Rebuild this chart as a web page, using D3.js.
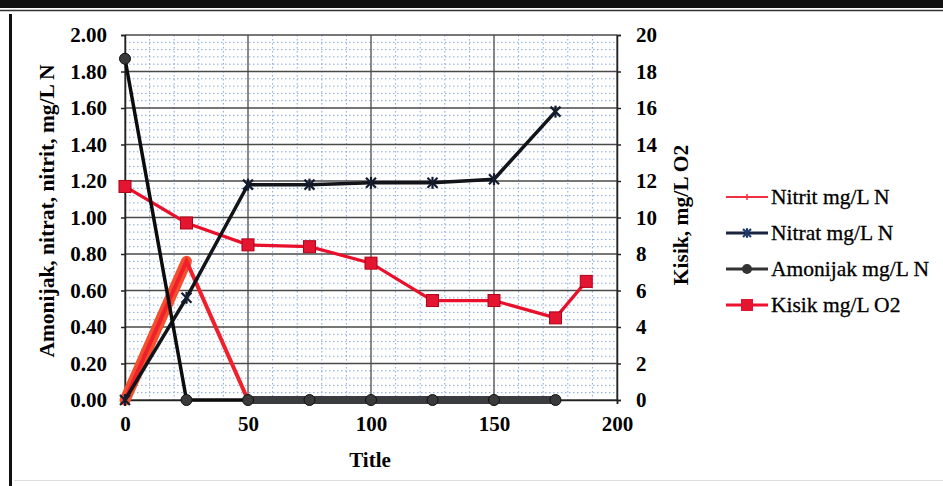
<!DOCTYPE html>
<html><head><meta charset="utf-8">
<script src="https://cdn.jsdelivr.net/npm/d3@7"></script>
<style>body{margin:0;background:#fff}svg{display:block}</style>
</head><body>
<svg id="c" width="943" height="486"></svg>
<script>
const xVals = [0, 25, 50, 75, 100, 125, 150, 175];
const kisikX = [0, 25, 50, 75, 100, 125, 150, 175, 187.5];
const nitrit = [0, 0.76, 0, 0, 0, 0, 0, 0];
const nitrat = [0, 0.56, 1.18, 1.18, 1.19, 1.19, 1.21, 1.58];
const amonijak = [1.87, 0, 0, 0, 0, 0, 0, 0];
const kisik = [11.7, 9.7, 8.5, 8.4, 7.5, 5.45, 5.45, 4.5, 6.5];
const xTicks = [0, 50, 100, 150, 200];
const yLeftTicks = [0, 0.2, 0.4, 0.6, 0.8, 1.0, 1.2, 1.4, 1.6, 1.8, 2.0];
const yRightTicks = [0, 2, 4, 6, 8, 10, 12, 14, 16, 18, 20];
const legendLabels = ["Nitrit mg/L N", "Nitrat mg/L N", "Amonijak mg/L N", "Kisik mg/L O2"];

const svg = d3.select("#c");
const x = d3.scaleLinear().domain([0, 200]).range([125, 617]);
const yL = d3.scaleLinear().domain([0, 2]).range([400, 35]);
const yR = d3.scaleLinear().domain([0, 20]).range([400, 35]);
const FONT = "'Liberation Serif','Times New Roman',serif";

// outer frame pieces
svg.append("rect").attr("x", 0).attr("y", 0).attr("width", 943).attr("height", 8).attr("fill", "#111");
svg.append("line").attr("x1", 0).attr("x2", 943).attr("y1", 10.5).attr("y2", 10.5).attr("stroke", "#333").attr("stroke-width", 1.5);
svg.append("rect").attr("x", 9).attr("y", 14).attr("width", 3).attr("height", 472).attr("fill", "#111");
svg.append("line").attr("x1", 14).attr("x2", 943).attr("y1", 480.5).attr("y2", 480.5).attr("stroke", "#ddd").attr("stroke-width", 1);

// minor grid
const g = svg.append("g");
d3.range(0, 201, 10).filter(v => v % 50 !== 0).forEach(v => {
  g.append("line").attr("x1", x(v)).attr("x2", x(v)).attr("y1", 35).attr("y2", 400)
    .attr("stroke", "#86a6dc").attr("stroke-width", 1).attr("stroke-dasharray", "1.5,2.5");
});
d3.range(0, 51, 1).map(i => i * 0.04).filter((v, i) => i % 5 !== 0).forEach(v => {
  g.append("line").attr("x1", 125).attr("x2", 617).attr("y1", yL(v)).attr("y2", yL(v))
    .attr("stroke", "#86a6dc").attr("stroke-width", 1).attr("stroke-dasharray", "1.5,2.5");
});
// major grid
xTicks.forEach(v => {
  g.append("line").attr("x1", x(v)).attr("x2", x(v)).attr("y1", 35).attr("y2", 400)
    .attr("stroke", "#4a4a4a").attr("stroke-width", 1.3);
});
yLeftTicks.forEach(v => {
  g.append("line").attr("x1", 125).attr("x2", 617).attr("y1", yL(v)).attr("y2", yL(v))
    .attr("stroke", "#4a4a4a").attr("stroke-width", 1.3);
});

// axes
const axL = svg.append("g").attr("transform", "translate(125,0)")
  .call(d3.axisLeft(yL).tickValues(yLeftTicks).tickFormat(d3.format(".2f")).tickSize(4).tickPadding(14));
const axR = svg.append("g").attr("transform", "translate(617,0)")
  .call(d3.axisRight(yR).tickValues(yRightTicks).tickFormat(d3.format("d")).tickSize(4).tickPadding(15));
const axB = svg.append("g").attr("transform", "translate(0,400)")
  .call(d3.axisBottom(x).tickValues(xTicks).tickFormat(d3.format("d")).tickSize(4).tickPadding(12));
[axL, axR, axB].forEach(a => {
  a.selectAll("path").attr("stroke", "#222").attr("stroke-width", 1.5);
  a.selectAll("line").attr("stroke", "#222").attr("stroke-width", 1.5);
  a.selectAll("text").attr("font-family", FONT).attr("font-weight", "bold").attr("font-size", 21).attr("fill", "#000");
});

// series
const lineL = xs => d3.line().x((d, i) => x(xs[i])).y(d => yL(d));
const lineR = xs => d3.line().x((d, i) => x(xs[i])).y(d => yR(d));

// Kisik
svg.append("path").attr("d", lineR(kisikX)(kisik)).attr("fill", "none")
  .attr("stroke", "#e8102a").attr("stroke-width", 3.2);
svg.selectAll(".ksq").data(kisik).join("rect")
  .attr("x", (d, i) => x(kisikX[i]) - 6).attr("y", d => yR(d) - 6).attr("width", 12).attr("height", 12)
  .attr("fill", "#e41530").attr("stroke", "#b0001a").attr("stroke-width", 1);

// Nitrit - wide band on rising segment
svg.append("path").attr("d", lineL(xVals.slice(0, 2))(nitrit.slice(0, 2))).attr("fill", "none")
  .attr("stroke", "#f4502f").attr("stroke-width", 11).attr("stroke-linecap", "round");
svg.append("path").attr("d", lineL(xVals)(nitrit)).attr("fill", "none")
  .attr("stroke", "#f0202a").attr("stroke-width", 4);

// Nitrat
svg.append("path").attr("d", lineL(xVals)(nitrat)).attr("fill", "none")
  .attr("stroke", "#111418").attr("stroke-width", 3.5);
const star = (sel, size, color) => {
  sel.each(function(d) {
    const gg = d3.select(this);
    const s = size;
    gg.append("line").attr("x1", -s).attr("y1", -s).attr("x2", s).attr("y2", s);
    gg.append("line").attr("x1", -s).attr("y1", s).attr("x2", s).attr("y2", -s);
    gg.append("line").attr("x1", 0).attr("y1", -s * 1.2).attr("x2", 0).attr("y2", s * 1.2);
    gg.selectAll("line").attr("stroke", color).attr("stroke-width", 2.2);
  });
};
svg.selectAll(".nst").data(nitrat).join("g")
  .attr("transform", (d, i) => `translate(${x(xVals[i])},${yL(d)})`)
  .call(star, 5, "#141c30");

// Amonijak
svg.append("path").attr("d", lineL(xVals)(amonijak)).attr("fill", "none")
  .attr("stroke", "#0c0c0c").attr("stroke-width", 3.5);
const amBandIdx = xVals.map((v, i) => i).filter(i => xVals[i] >= 50);
svg.append("path").attr("d", lineL(amBandIdx.map(i => xVals[i]))(amBandIdx.map(i => amonijak[i])))
  .attr("fill", "none").attr("stroke", "#3a3c40").attr("stroke-width", 8).attr("stroke-linecap", "round");
svg.selectAll(".amc").data(amonijak).join("circle")
  .attr("cx", (d, i) => x(xVals[i])).attr("cy", d => yL(d)).attr("r", 5.5)
  .attr("fill", "#3a3a3a").attr("stroke", "#111").attr("stroke-width", 1);

// axis titles
svg.append("text").attr("transform", "translate(54,211) rotate(-90)").attr("text-anchor", "middle")
  .attr("font-family", FONT).attr("font-weight", "bold").attr("font-size", 21.5).text("Amonijak, nitrat, nitrit, mg/L N");
svg.append("text").attr("transform", "translate(688,215) rotate(-90)").attr("text-anchor", "middle")
  .attr("font-family", FONT).attr("font-weight", "bold").attr("font-size", 21.5).text("Kisik, mg/L O2");
svg.append("text").attr("x", 370).attr("y", 467).attr("text-anchor", "middle")
  .attr("font-family", FONT).attr("font-weight", "bold").attr("font-size", 21).text("Title");

// legend
const lg = svg.append("g");
const legY = [197, 233, 269, 305];
legendLabels.forEach((lab, i) => {
  const y = legY[i];
  const colors = ["#f03040", "#1a2440", "#333", "#ee1030"];
  lg.append("line").attr("x1", 726).attr("x2", 768).attr("y1", y).attr("y2", y)
    .attr("stroke", colors[i]).attr("stroke-width", i === 0 ? 2 : 3);
  if (i === 0) {
    lg.append("line").attr("x1", 747).attr("x2", 747).attr("y1", y - 3).attr("y2", y + 3).attr("stroke", colors[i]).attr("stroke-width", 1.5);
  } else if (i === 1) {
    lg.append("g").attr("transform", `translate(747,${y})`).datum(0).call(star, 4, "#1d3a6a");
  } else if (i === 2) {
    lg.append("circle").attr("cx", 747).attr("cy", y).attr("r", 5).attr("fill", "#333");
  } else {
    lg.append("rect").attr("x", 741).attr("y", y - 6).attr("width", 12).attr("height", 12).attr("fill", "#e41530");
  }
  lg.append("text").attr("x", 771).attr("y", y + 7).attr("font-family", FONT).attr("font-size", 21.5)
    .attr("fill", "#000").attr("stroke", "#000").attr("stroke-width", 0.3).text(lab);
});
</script>
</body></html>
